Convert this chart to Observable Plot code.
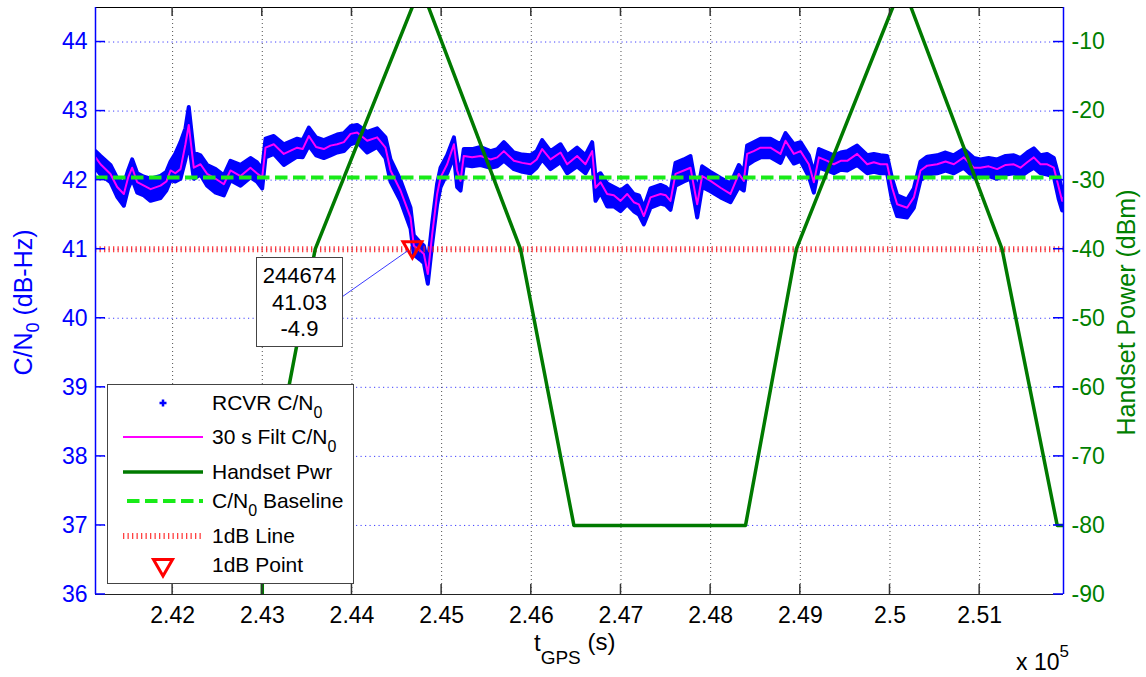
<!DOCTYPE html>
<html><head><meta charset="utf-8">
<script src="https://cdn.jsdelivr.net/npm/d3@7"></script>
<script src="https://cdn.jsdelivr.net/npm/@observablehq/plot@0.6"></script>
<style>
body{margin:0;background:#fff;}
#chart svg{display:block;}
</style></head>
<body><div id="chart"></div>
<script>
// ---- data ----
const cnoT = [241140,241196,241307,241382,241456,241504,241549,241605,241680,241754,241865,241930,241977,242030,242088,242143,242180,242236,242311,242385,242480,242571,242645,242757,242868,242940,242999,243036,243128,243240,243389,243450,243519,243600,243686,243760,243835,243910,243984,244058,244170,244281,244374,244430,244541,244653,244690,244760,244802,244846,244895,244950,244988,245062,245137,245173,245211,245247,245340,245434,245546,245620,245694,245806,245900,245991,246060,246121,246214,246326,246400,246511,246604,246679,246716,246772,246846,246920,246995,247069,247143,247200,247255,247329,247441,247500,247552,247608,247701,247775,247850,247905,247998,248110,248221,248314,248370,248407,248480,248556,248667,248779,248835,248928,249002,249095,249151,249207,249300,249374,249450,249523,249634,249746,249820,249894,249968,250024,250080,250191,250266,250340,250415,250526,250620,250712,250823,250935,251009,251100,251195,251290,251381,251455,251530,251604,251678,251753,251827,251883,251920,251935];
const cnoFilt = [42.33,42.23,42.09,41.90,41.80,42.04,42.18,41.97,41.92,41.87,41.92,41.98,42.14,42.10,42.16,42.52,42.80,42.18,42.23,42.09,42.02,41.94,42.14,42.06,42.18,42.10,42.04,42.47,42.52,42.38,42.47,42.45,42.64,42.48,42.45,42.50,42.52,42.55,42.67,42.69,42.57,42.62,42.47,42.14,41.85,41.46,41.05,40.98,40.93,40.64,41.22,41.80,42.04,42.23,42.52,42.14,41.99,42.35,42.33,42.35,42.30,42.33,42.42,42.28,42.25,42.23,42.30,42.45,42.30,42.40,42.23,42.35,42.23,42.42,41.89,41.97,41.80,41.78,41.70,41.80,41.68,41.65,41.48,41.75,41.80,41.78,41.70,42.09,42.14,42.18,41.65,42.06,41.99,41.89,41.80,42.09,41.99,42.38,42.42,42.47,42.47,42.38,42.57,42.38,42.42,42.23,41.97,42.33,42.28,42.23,42.28,42.28,42.38,42.23,42.26,42.23,42.23,41.89,41.65,41.60,41.75,42.14,42.21,42.23,42.27,42.23,42.33,42.18,42.18,42.20,42.16,42.22,42.23,42.18,42.26,42.33,42.23,42.23,42.18,41.89,41.70,41.75];
const cnoHi = [42.42,42.35,42.22,42.03,41.95,42.14,42.30,42.10,42.05,42.02,42.06,42.12,42.27,42.38,42.55,42.75,43.06,42.40,42.36,42.22,42.16,42.07,42.28,42.22,42.32,42.26,42.16,42.60,42.64,42.52,42.60,42.58,42.76,42.62,42.58,42.62,42.66,42.68,42.78,42.80,42.70,42.75,42.62,42.30,42.00,41.60,41.20,41.10,41.05,40.80,41.38,41.95,42.18,42.36,42.62,42.28,42.10,42.45,42.45,42.48,42.42,42.45,42.55,42.40,42.37,42.36,42.42,42.58,42.42,42.52,42.36,42.47,42.36,42.55,42.05,42.10,41.95,41.90,41.85,41.92,41.80,41.78,41.60,41.88,41.93,41.90,41.83,42.25,42.30,42.35,41.80,42.20,42.12,42.03,41.95,42.22,42.12,42.50,42.55,42.60,42.60,42.52,42.68,42.52,42.55,42.36,42.10,42.45,42.40,42.36,42.40,42.42,42.50,42.36,42.38,42.36,42.35,42.02,41.78,41.72,41.88,42.27,42.34,42.36,42.40,42.36,42.45,42.32,42.30,42.32,42.30,42.35,42.36,42.32,42.40,42.46,42.36,42.38,42.32,42.05,41.85,41.90];
const cnoLo = [42.18,42.08,41.97,41.76,41.63,41.88,42.02,41.82,41.78,41.70,41.74,41.85,42.00,41.98,42.02,42.30,42.55,42.02,42.08,41.92,41.82,41.78,42.00,41.92,42.04,41.98,41.88,42.33,42.38,42.22,42.34,42.33,42.50,42.36,42.32,42.36,42.40,42.42,42.52,42.55,42.40,42.48,42.32,41.98,41.70,41.30,40.92,40.85,40.80,40.50,41.08,41.65,41.90,42.10,42.35,41.90,41.85,42.22,42.20,42.22,42.18,42.20,42.28,42.16,42.12,42.10,42.18,42.30,42.16,42.26,42.10,42.20,42.10,42.28,41.70,41.82,41.62,41.62,41.55,41.65,41.55,41.50,41.36,41.60,41.66,41.64,41.57,41.92,41.98,42.02,41.46,41.90,41.84,41.75,41.68,41.90,41.85,42.22,42.28,42.33,42.33,42.25,42.42,42.24,42.28,42.05,41.82,42.18,42.14,42.10,42.15,42.14,42.22,42.10,42.12,42.10,42.10,41.70,41.48,41.46,41.60,42.00,42.08,42.10,42.14,42.10,42.18,42.04,42.05,42.06,42.02,42.08,42.10,42.05,42.12,42.18,42.10,42.08,42.05,41.72,41.56,41.60];

const pwrT   = [241140,242999,243000,243590,244674,244760,244855,245880,246475,248389,248955,250030,250130,250235,251250,251865,251935];
const pwrDbm = [-130,-130,-80,-40,-4.9,-2,-5,-40,-80,-80,-40,-5,-2,-5,-40,-80,-80];

const baselineCno = 42.04;
const oneDbLineCno = 41;
const oneDbPoint = {t: 244674, cno: 41.03, pwr: -4.9};

const xTicks = [242000,243000,244000,245000,246000,247000,248000,249000,250000,251000];
const xTickLabels = ["2.42","2.43","2.44","2.45","2.46","2.47","2.48","2.49","2.5","2.51"];
const yTicksLeft = [36,37,38,39,40,41,42,43,44];
const yTicksRight = [-90,-80,-70,-60,-50,-40,-30,-20,-10];

const legendItems = ["RCVR C/N|0", "30 s Filt C/N|0", "Handset Pwr", "C/N|0| Baseline", "1dB Line", "1dB Point"];

// ---- chart ----
const W = 1146, H = 677;
const mL = 95, mR = 83, mT = 7, mB = 83;
const xDomain = [241140, 251935];
const yDomain = [36, 44.5];
const toLeft = p => 36 + (p + 90) / 10;   // right-axis dBm onto left-axis scale

const cnoRows = cnoT.map((t, i) => ({t, f: cnoFilt[i], hi: cnoHi[i], lo: cnoLo[i]}));
const pwrRows = pwrT.map((t, i) => ({t, p: toLeft(pwrDbm[i])}));
const FONT = '"Liberation Sans", Arial, Helvetica, sans-serif';

const plot = Plot.plot({
  width: W, height: H,
  marginLeft: mL, marginRight: mR, marginTop: mT, marginBottom: mB,
  style: {fontFamily: FONT, background: "#fff", overflow: "visible"},
  x: {domain: xDomain},
  y: {domain: yDomain},
  marks: [
    Plot.gridY(yTicksLeft, {stroke: "#2a2aff", strokeOpacity: 0.9, strokeWidth: 1, strokeDasharray: "1.2,3.3"}),
    Plot.gridX(xTicks, {stroke: "#333", strokeOpacity: 0.85, strokeWidth: 1, strokeDasharray: "1,3"}),
    Plot.areaY(cnoRows, {x: "t", y1: "lo", y2: "hi", fill: "#0000ff", clip: true}),
    Plot.lineY(cnoRows, {x: "t", y: "hi", stroke: "#0000ff", strokeWidth: 4, clip: true}),
    Plot.lineY(cnoRows, {x: "t", y: "lo", stroke: "#0000ff", strokeWidth: 4, clip: true}),
    Plot.lineY(cnoRows, {x: "t", y: "f", stroke: "#ff00ff", strokeWidth: 2, clip: true}),
    Plot.ruleY([baselineCno], {stroke: "#18eb18", strokeWidth: 4, strokeDasharray: "12.5,5.5"}),
    Plot.ruleY([oneDbLineCno], {stroke: "#ff2020", strokeOpacity: 0.85, strokeWidth: 6, strokeDasharray: "1.3,3.2"}),
    Plot.lineY(pwrRows, {x: "t", y: "p", stroke: "#007a00", strokeWidth: 3.5, clip: true}),
    Plot.dot([oneDbPoint], {x: "t", y: "cno", symbol: "triangle", rotate: 180, r: 7, stroke: "#ff0000", strokeWidth: 3, fill: "none"}),
    Plot.ruleY([yDomain[0]], {stroke: "#222", strokeWidth: 1.2}),
    Plot.ruleY([yDomain[1]], {stroke: "#000", strokeWidth: 1.2}),
    Plot.ruleX([xDomain[0]], {stroke: "#0000ff", strokeWidth: 1.5}),
    Plot.ruleX([xDomain[1]], {stroke: "#0000ff", strokeWidth: 1.5}),
    Plot.axisX(xTicks, {anchor: "bottom", tickSize: 0, tickPadding: 12, label: null,
      tickFormat: d => xTickLabels[xTicks.indexOf(d)], fontSize: 23, color: "#000"}),
    Plot.axisY(yTicksLeft, {anchor: "left", tickSize: 0, tickPadding: 8, label: null,
      tickFormat: d => String(d), fontSize: 23, color: "#0000ff"}),
    Plot.axisY(yTicksRight.map(toLeft), {anchor: "right", tickSize: 0, tickPadding: 8, label: null,
      tickFormat: d => String(yTicksRight[yTicksRight.map(toLeft).indexOf(d)]), fontSize: 23, color: "#008000"})
  ]
});

document.getElementById("chart").appendChild(plot);

const xs = plot.scale("x"), ys = plot.scale("y");
const svg = d3.select(plot);
const g = svg.append("g").attr("font-family", FONT).attr("text-anchor", "start");

// inward tick marks
const yBot = ys.apply(yDomain[0]), yTop = ys.apply(yDomain[1]);
const xL = xs.apply(xDomain[0]), xR = xs.apply(xDomain[1]);
xTicks.forEach(v => {
  const x = xs.apply(v);
  g.append("line").attr("x1", x).attr("x2", x).attr("y1", yBot).attr("y2", yBot - 10).attr("stroke", "#333").attr("stroke-width", 1.5);
  g.append("line").attr("x1", x).attr("x2", x).attr("y1", yTop).attr("y2", yTop + 9).attr("stroke", "#333").attr("stroke-width", 1.5);
});
yTicksLeft.forEach(v => {
  const y = ys.apply(v);
  g.append("line").attr("x1", xL).attr("x2", xL + 10).attr("y1", y).attr("y2", y).attr("stroke", "#0000ff").attr("stroke-width", 1.5);
});
yTicksRight.forEach(v => {
  const y = ys.apply(toLeft(v));
  g.append("line").attr("x1", xR).attr("x2", xR - 10).attr("y1", y).attr("y2", y).attr("stroke", "#0000ff").attr("stroke-width", 1.5);
});

// axis labels
const yMid = (yTop + yBot) / 2;
const ll = g.append("text").attr("transform", `translate(32,${yMid + 2}) rotate(-90)`)
  .attr("text-anchor", "middle").attr("fill", "#0000ff").attr("font-size", 25);
ll.append("tspan").text("C/N");
ll.append("tspan").attr("font-size", 18).attr("dy", 7).text("0");
ll.append("tspan").attr("dy", -7).text(" (dB-Hz)");

g.append("text").attr("transform", `translate(1135,${yMid + 12}) rotate(-90)`)
  .attr("text-anchor", "middle").attr("fill", "#008000").attr("font-size", 25)
  .text("Handset Power (dBm)");

const xl = g.append("text").attr("x", 534).attr("y", 651).attr("fill", "#000").attr("font-size", 24);
xl.append("tspan").text("t");
xl.append("tspan").attr("font-size", 19).attr("dy", 13).text("GPS");
xl.append("tspan").attr("dy", -14).text(" (s)");

const xe = g.append("text").attr("x", 1016).attr("y", 670).attr("fill", "#000").attr("font-size", 23);
xe.append("tspan").text("x 10");
xe.append("tspan").attr("font-size", 17).attr("dy", -13).text("5");

// data-tip box for the 1 dB point
const px = xs.apply(oneDbPoint.t), py = ys.apply(oneDbPoint.cno);
g.append("line").attr("x1", 339).attr("y1", 299).attr("x2", px - 4).attr("y2", py + 4)
  .attr("stroke", "#3a3aff").attr("stroke-width", 1);
g.append("rect").attr("x", 256.5).attr("y", 257.5).attr("width", 86).attr("height", 89)
  .attr("fill", "#fff").attr("stroke", "#444").attr("stroke-width", 1);
[String(oneDbPoint.t), oneDbPoint.cno.toFixed(2), oneDbPoint.pwr.toFixed(1)].forEach((s, i) => {
  g.append("text").attr("x", 299.5).attr("y", 283 + i * 26.5).attr("text-anchor", "middle")
    .attr("font-size", 22).attr("fill", "#000").text(s);
});

// legend
g.append("rect").attr("x", 107.5).attr("y", 384.5).attr("width", 246).attr("height", 199)
  .attr("fill", "#fff").attr("stroke", "#444").attr("stroke-width", 1);
const rowY = [403, 437, 472, 501, 536, 565];
const sx1 = 123, sx2 = 203, sxm = 163;
g.append("path").attr("d", `M${sxm - 3.5},${rowY[0]}H${sxm + 3.5}M${sxm},${rowY[0] - 3.5}V${rowY[0] + 3.5}`)
  .attr("stroke", "#0000ff").attr("stroke-width", 2.5);
g.append("line").attr("x1", sx1).attr("x2", sx2).attr("y1", rowY[1]).attr("y2", rowY[1]).attr("stroke", "#ff00ff").attr("stroke-width", 2);
g.append("line").attr("x1", sx1).attr("x2", sx2).attr("y1", rowY[2]).attr("y2", rowY[2]).attr("stroke", "#007a00").attr("stroke-width", 3.5);
g.append("line").attr("x1", sx1 + 4).attr("x2", sx2).attr("y1", rowY[3]).attr("y2", rowY[3]).attr("stroke", "#18eb18").attr("stroke-width", 4).attr("stroke-dasharray", "12.5,5.5");
g.append("line").attr("x1", sx1).attr("x2", sx2).attr("y1", rowY[4]).attr("y2", rowY[4]).attr("stroke", "#ff2020").attr("stroke-opacity", 0.85).attr("stroke-width", 6).attr("stroke-dasharray", "1.3,3.2");
g.append("path").attr("d", d3.symbol(d3.symbolTriangle, 157)()).attr("transform", `translate(${sxm},${rowY[5]}) rotate(180)`)
  .attr("fill", "none").attr("stroke", "#ff0000").attr("stroke-width", 3);
legendItems.forEach((s, i) => {
  const parts = s.split("|");
  const t = g.append("text").attr("x", 212).attr("y", rowY[i] + 7).attr("font-size", 21).attr("fill", "#000");
  t.append("tspan").text(parts[0]);
  if (parts.length > 1) {
    t.append("tspan").attr("font-size", 16).attr("dy", 8).text(parts[1]);
    if (parts.length > 2) t.append("tspan").attr("dy", -8).text(parts[2]);
  }
});
</script>
</body></html>
